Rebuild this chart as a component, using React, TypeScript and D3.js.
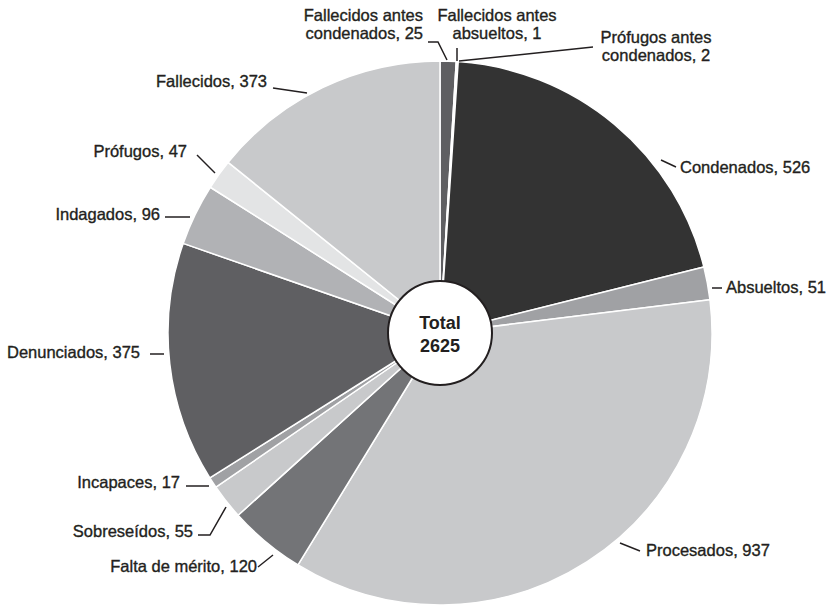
import React from "react";
import * as d3 from "d3";

const categories = [
  "Fallecidos antes condenados",
  "Fallecidos antes absueltos",
  "Prófugos antes condenados",
  "Condenados",
  "Absueltos",
  "Procesados",
  "Falta de mérito",
  "Sobreseídos",
  "Incapaces",
  "Denunciados",
  "Indagados",
  "Prófugos",
  "Fallecidos",
];
const values = [25, 1, 2, 526, 51, 937, 120, 55, 17, 375, 96, 47, 373];
const colors = [
  "#5f5f62", "#e4e5e6", "#d8d9db", "#333333", "#a0a1a4", "#c8c9cb",
  "#737477", "#c8c9cb", "#a0a1a4", "#5f5f62", "#b1b2b5", "#e3e4e5", "#c8c9cb",
];
const totalLabel = ["Total", "2625"];

// annotation layout: text lines, anchor, text x, first baseline, leader points
type LabelLayout = { lines: string[]; anchor: string; x: number; y: number; leader: [number, number][] };
const labelLayout: LabelLayout[] = [
  { lines: ["Fallecidos antes", "condenados, 25"], anchor: "end", x: 423, y: 21, leader: [[428, 42], [438, 42], [447, 60]] },
  { lines: ["Fallecidos antes", "absueltos, 1"], anchor: "middle", x: 497, y: 21, leader: [[457, 48], [457, 61]] },
  { lines: ["Prófugos antes", "condenados, 2"], anchor: "middle", x: 656, y: 43, leader: [[459, 61], [593, 47]] },
  { lines: ["Condenados, 526"], anchor: "start", x: 680, y: 173, leader: [[661, 160], [676, 167]] },
  { lines: ["Absueltos, 51"], anchor: "start", x: 726, y: 293, leader: [[712, 288], [722, 288]] },
  { lines: ["Procesados, 937"], anchor: "start", x: 646, y: 556, leader: [[620, 543], [640, 551]] },
  { lines: ["Falta de mérito, 120"], anchor: "end", x: 257, y: 572, leader: [[258, 567], [273, 555]] },
  { lines: ["Sobreseídos, 55"], anchor: "end", x: 193, y: 537, leader: [[198, 535], [210, 535], [226, 507]] },
  { lines: ["Incapaces, 17"], anchor: "end", x: 180, y: 488, leader: [[186, 486], [209, 486]] },
  { lines: ["Denunciados, 375"], anchor: "end", x: 140, y: 358, leader: [[150, 354], [164, 354]] },
  { lines: ["Indagados, 96"], anchor: "end", x: 160, y: 220, leader: [[165, 217], [190, 217]] },
  { lines: ["Prófugos, 47"], anchor: "end", x: 187, y: 157, leader: [[197, 155], [215, 173]] },
  { lines: ["Fallecidos, 373"], anchor: "end", x: 267, y: 87, leader: [[273, 88], [307, 93]] },
];

const W = 827;
const H = 607;
const CX = 440;
const CY = 333;
const R = 272;
const R_CENTER = 52;

export default function App() {
  const data = categories.map((c, i) => ({ name: c, value: values[i], color: colors[i] }));
  const pie = d3.pie<any>().sort(null).value((d: any) => d.value).startAngle(0).endAngle(2 * Math.PI);
  const arcs = pie(data);
  const arc = d3.arc<any>().innerRadius(0).outerRadius(R);
  const line = d3.line();
  const font = "'Liberation Sans', Arial, sans-serif";
  return (
    <svg width={W} height={H} style={{ position: "absolute", left: 0, top: 0, background: "#fff" }}>
      <g transform={`translate(${CX},${CY})`}>
        {arcs.map((a, i) => (
          <path key={i} d={arc(a) as string} fill={a.data.color} stroke="#fff" strokeWidth={1.5} strokeLinejoin="round" />
        ))}
        <circle r={R_CENTER} fill="#fff" stroke="#231f20" strokeWidth={2} />
        <text textAnchor="middle" y={-4} fontFamily={font} fontWeight="bold" fontSize={18} fill="#231f20">{totalLabel[0]}</text>
        <text textAnchor="middle" y={19} fontFamily={font} fontWeight="bold" fontSize={18} fill="#231f20">{totalLabel[1]}</text>
      </g>
      {labelLayout.map((l, i) => (
        <g key={i}>
          <path d={line(l.leader) as string} fill="none" stroke="#231f20" strokeWidth={1.5} />
          <text fontFamily={font} fontSize={16.5} fill="#231f20" stroke="#231f20" strokeWidth={0.35} textAnchor={l.anchor}>
            {l.lines.map((t, j) => (
              <tspan key={j} x={l.x} y={l.y + j * 18}>{t}</tspan>
            ))}
          </text>
        </g>
      ))}
    </svg>
  );
}
